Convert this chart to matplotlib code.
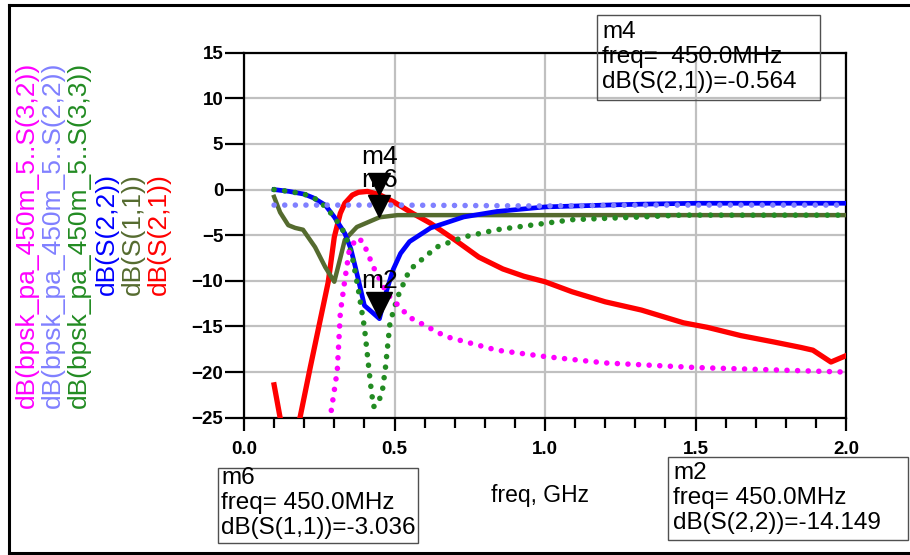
import matplotlib
matplotlib.use("Agg")
import matplotlib.pyplot as plt
from matplotlib.patches import Rectangle
from matplotlib.lines import Line2D
from matplotlib.transforms import offset_copy

plt.rcParams['font.family'] = ['Liberation Sans', 'DejaVu Sans']

# dB(S(2,1)) - red
f_s21 = [0.10, 0.12, 0.15, 0.186, 0.22, 0.25, 0.28, 0.30, 0.32, 0.335, 0.36, 0.38,
         0.41, 0.45, 0.50, 0.56, 0.62, 0.70, 0.78, 0.86, 0.93, 1.00, 1.09, 1.20,
         1.32, 1.40, 1.46, 1.54, 1.65, 1.76, 1.85, 1.89, 1.95, 2.00]
db_s21 = [-21.4, -25.0, -28.0, -25.0, -19.5, -14.8, -10.1, -5.2, -2.6, -1.5, -0.6, -0.3,
          -0.2, -0.56, -1.4, -2.6, -3.7, -5.5, -7.4, -8.7, -9.5, -10.1, -11.2, -12.3,
          -13.2, -14.0, -14.6, -15.1, -16.0, -16.7, -17.3, -17.6, -18.9, -18.2]

# dB(S(1,1)) - olive
f_s11 = [0.10, 0.12, 0.147, 0.17, 0.196, 0.236, 0.27, 0.30, 0.32, 0.335, 0.375,
         0.45, 0.51, 0.70, 1.00, 1.50, 2.00]
db_s11 = [-0.8, -2.5, -3.9, -4.2, -4.4, -6.3, -8.5, -10.1, -7.5, -5.5, -4.1,
          -3.04, -2.8, -2.8, -2.8, -2.8, -2.8]

# dB(S(2,2)) - blue
f_s22 = [0.10, 0.15, 0.20, 0.23, 0.27, 0.30, 0.335, 0.355, 0.37, 0.40, 0.45, 0.47,
         0.495, 0.52, 0.55, 0.62, 0.73, 0.84, 1.00, 1.20, 1.32, 1.50, 1.75, 2.00]
db_s22 = [0.0, -0.2, -0.5, -0.9, -1.7, -3.0, -4.8, -6.5, -8.5, -12.7, -14.15, -11.5,
          -8.8, -7.0, -5.7, -4.2, -3.0, -2.4, -1.9, -1.7, -1.6, -1.5, -1.5, -1.5]

# dB(bpsk_pa_450m_5..S(3,3)) - green dotted
f_b33 = [0.10, 0.15, 0.20, 0.25, 0.30, 0.335, 0.36, 0.38, 0.40, 0.42, 0.43, 0.445,
         0.46, 0.47, 0.485, 0.51, 0.55, 0.64, 0.73, 0.84, 1.00, 1.09, 1.32, 1.45, 2.00]
db_b33 = [0.0, -0.2, -0.5, -1.2, -3.0, -4.8, -7.4, -11.0, -15.1, -21.2, -23.8, -23.5,
          -22.0, -19.5, -14.6, -11.8, -8.8, -6.3, -5.2, -4.4, -3.7, -3.3, -3.0, -2.8, -2.8]

# dB(bpsk_pa_450m_5..S(2,2)) - purple dotted
f_b22 = [0.10, 0.50, 1.00, 1.30, 2.00]
db_b22 = [-1.7, -1.7, -1.8, -1.7, -1.7]

# dB(bpsk_pa_450m_5..S(3,2)) - magenta dotted
f_b32 = [0.29, 0.31, 0.32, 0.335, 0.35, 0.375, 0.395, 0.43, 0.475, 0.55, 0.67,
         0.84, 1.00, 1.20, 1.50, 2.00]
db_b32 = [-24.2, -19.8, -13.5, -9.9, -6.6, -5.3, -5.7, -8.5, -11.4, -14.0, -16.1,
          -17.6, -18.3, -19.0, -19.5, -20.0]

# markers
mk_names = ['m4', 'm6', 'm2']
mk_freq = [0.45, 0.45, 0.45]
mk_vals = [-0.564, -3.036, -14.149]
mk_size = [16, 16, 19]
mk_boxes = [("m4", "freq=  450.0MHz", "dB(S(2,1))=-0.564"),
            ("m6", "freq= 450.0MHz", "dB(S(1,1))=-3.036"),
            ("m2", "freq= 450.0MHz", "dB(S(2,2))=-14.149")]

legend_labels = ['dB(bpsk_pa_450m_5..S(3,2))', 'dB(bpsk_pa_450m_5..S(2,2))',
                 'dB(bpsk_pa_450m_5..S(3,3))', 'dB(S(2,2))', 'dB(S(1,1))', 'dB(S(2,1))']
legend_colors = ['#ff00ff', '#8080ff', '#228b22', '#0000ff', '#556b2f', '#ff0000']

W, H = 910, 555


def fx(px):
    return px / W


def fy(py):
    return 1 - py / H


fig = plt.figure(figsize=(9.1, 5.55), dpi=100)
ax = fig.add_axes([fx(244), fy(417.7), (846 - 244) / W, (417.7 - 52.7) / H])

dot = (0, (0.01, 1.9))
ax.plot(f_s21, db_s21, color='#ff0000', lw=3.8, solid_joinstyle='round', zorder=3)
ax.plot(f_s11, db_s11, color='#556b2f', lw=3.2, solid_joinstyle='round', zorder=3)
ax.plot(f_s22, db_s22, color='#0000ff', lw=3.4, solid_joinstyle='round', zorder=3)
ax.plot(f_b33, db_b33, color='#228b22', lw=4.0, ls=dot, dash_capstyle='round', zorder=4)
ax.plot(f_b22, db_b22, color='#8080ff', lw=4.0, ls=dot, dash_capstyle='round', zorder=4)
ax.plot(f_b32, db_b32, color='#ff00ff', lw=4.0, ls=dot, dash_capstyle='round', zorder=4)

for name, fr, v, s in zip(mk_names, mk_freq, mk_vals, mk_size):
    tr = offset_copy(ax.transData, fig=fig, x=0, y=s / 2, units='points')
    ax.plot([fr], [v], marker='v', ms=s, color='black', transform=tr,
            clip_on=False, zorder=6)
    ax.annotate(name, xy=(fr, v), xytext=(0, 27), textcoords='offset points',
                ha='center', va='center', fontsize=19, zorder=7)

ax.set_xlim(0, 2)
ax.set_ylim(-25, 15)
ax.set_xticks([0.0, 0.5, 1.0, 1.5, 2.0])
ax.set_xticks([i / 10 for i in range(21)], minor=True)
ax.set_yticks(range(-25, 16, 5))
ax.set_xticklabels(['0.0', '0.5', '1.0', '1.5', '2.0'])
ax.grid(True, which='major', color='#c0c0c0', lw=1.6)
ax.set_axisbelow(True)
for sp in ax.spines.values():
    sp.set_linewidth(1.6)
    sp.set_color('black')
ax.tick_params(axis='x', which='major', length=9, width=1.6, pad=8, labelsize=13.5)
ax.tick_params(axis='x', which='minor', length=7, width=1.6)
ax.tick_params(axis='y', which='major', length=14, width=1.6, pad=1, labelsize=13.5)
for lab in ax.get_xticklabels() + ax.get_yticklabels():
    lab.set_fontweight('bold')

ax.set_xlabel('freq, GHz', fontsize=16.5, va='center')
ax.xaxis.set_label_coords(0.492, -0.212)

# rotated legend labels
leg_x = [27, 53, 79, 107, 133, 159]
leg_bottom = [408, 408, 408, 295, 295, 295]
for lab, col, x, yb in zip(legend_labels, legend_colors, leg_x, leg_bottom):
    fig.text(fx(x), fy(yb), lab, color=col, rotation=90, ha='center', va='bottom',
             fontsize=19)

# marker readout boxes
box_rects = [(597, 15, 820, 100), (218, 468, 418, 543), (668, 457, 908, 540)]
box_text_x = [602, 221, 673]
box_line_y = [(32, 57, 82), (478, 503, 528), (473, 498, 523)]
for (x0, y0, x1, y1), tx, ys, lines in zip(box_rects, box_text_x, box_line_y, mk_boxes):
    fig.add_artist(Rectangle((fx(x0), fy(y1)), fx(x1) - fx(x0), fy(y0) - fy(y1),
                             transform=fig.transFigure, fill=False,
                             edgecolor='#505050', lw=1.0))
    for t, yy in zip(lines, ys):
        fig.text(fx(tx), fy(yy), t, ha='left', va='center', fontsize=17.5)

# outer frame
fig.add_artist(Line2D([fx(9), fx(9)], [fy(5), fy(553)], color='black', lw=2.2))
fig.add_artist(Line2D([fx(9), 1], [fy(5), fy(5)], color='black', lw=2.2))
fig.add_artist(Line2D([fx(9), 1], [fy(553), fy(553)], color='black', lw=2.2))

fig.savefig('out.png', dpi=100)
